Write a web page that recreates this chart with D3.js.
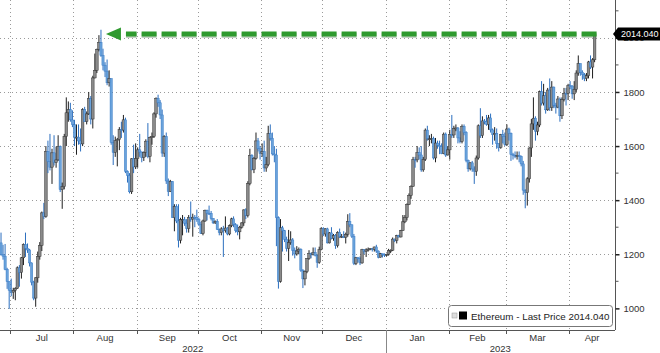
<!DOCTYPE html>
<html>
<head>
<meta charset="utf-8">
<script src="https://cdn.jsdelivr.net/npm/d3@7"></script>
<style>
  body { margin: 0; background: #fff; }
  svg { display: block; font-family: "Liberation Sans", Arial, sans-serif; }
</style>
</head>
<body>
<div id="chart"></div>
<script>
// daily bars, Ethereum (USD), first bar 2022-06-26; open = previous close
const firstDay = '2022-06-26';
const firstOpen = 1242;
const closes = [
  1199,1193,1144,1099,1067,
  1060,1067,1074,1150,1133,1187,1237,1222,1216,1168,1097,1038,1113,1192,1232,1353,1340,1580,1543,1522,1575,1539,1549,1599,1439,1450,1636,1723,1735,1697,1679,
  1632,1633,1619,1608,1735,1691,1719,1776,1700,1852,1880,1958,1983,1935,1899,1877,1834,1849,1614,1577,1620,1624,1661,1659,1697,1507,1491,1431,1553,1523,1554,
  1586,1578,1558,1577,1618,1562,1631,1636,1719,1776,1760,1715,1574,1635,1471,1432,1469,1335,1377,1323,1252,1328,1328,1315,1295,1336,1330,1337,1336,1328,
  1311,1276,1323,1362,1352,1351,1332,1316,1322,1292,1280,1294,1288,1297,1275,1306,1331,1310,1287,1283,1300,1316,1364,1344,1461,1566,1513,1555,1619,1590,1572,
  1579,1519,1531,1646,1629,1571,1567,1335,1100,1298,1287,1255,1222,1243,1253,1215,1201,1212,1218,1141,1109,1136,1184,1203,1198,1206,1196,1170,1217,1296,
  1275,1294,1242,1279,1259,1270,1232,1281,1265,1266,1263,1274,1321,1309,1266,1166,1187,1184,1168,1217,1211,1216,1219,1221,1218,1227,1212,1189,1202,1200,1196,
  1200,1214,1215,1256,1251,1269,1264,1287,1320,1335,1384,1417,1451,1551,1549,1576,1567,1512,1551,1659,1627,1627,1628,1556,1611,1603,1598,1572,1644,1567,1586,
  1643,1641,1665,1667,1630,1617,1672,1650,1547,1516,1538,1515,1507,1556,1675,1639,1693,1691,1680,1704,1660,1642,1647,1609,1595,1642,1636,1605,
  1663,1647,1569,1566,1565,1565,1561,1534,1437,1428,1479,1593,1682,1703,1655,1678,1801,1759,1786,1734,1807,1742,1818,1751,1744,1774,1712,1772,1795,1794,1823,
  1822,1793,1810,1870,1905,1873,1864,1850,1860,1911,1892,1919,2014
];
const highs = [
  1280,1235,1238,1150,1100,
  1110,1076,1078,1155,1160,1190,1240,1280,1240,1220,1170,1102,1115,1210,1245,1358,1390,1600,1620,1645,1590,1640,1598,1640,1602,1465,1645,1780,1765,1760,1732,
  1697,1680,1680,1665,1740,1745,1728,1800,1785,1860,1942,1960,2010,2030,1960,1910,1920,1880,1850,1640,1635,1630,1670,1690,1715,1705,1510,1500,1555,1605,1610,
  1595,1645,1580,1580,1625,1685,1635,1650,1725,1780,1790,1770,1735,1640,1650,1480,1475,1470,1385,1385,1385,1335,1345,1338,1330,1345,1395,1350,1345,1365,
  1335,1320,1328,1365,1365,1380,1360,1333,1325,1330,1295,1300,1305,1340,1300,1310,1335,1340,1315,1310,1305,1318,1366,1370,1470,1590,1570,1560,1650,1630,1600,
  1610,1620,1560,1675,1680,1650,1600,1590,1340,1330,1305,1290,1265,1290,1285,1260,1225,1230,1225,1222,1145,1140,1185,1215,1206,1225,1225,1200,1228,1300,
  1300,1296,1298,1282,1300,1275,1275,1285,1295,1275,1285,1280,1348,1352,1310,1275,1190,1190,1192,1220,1218,1222,1225,1222,1222,1228,1235,1214,1205,1202,1203,
  1202,1220,1218,1262,1258,1272,1272,1290,1345,1345,1388,1425,1455,1560,1560,1600,1595,1600,1560,1665,1675,1640,1645,1635,1630,1620,1620,1610,1650,1650,1600,
  1660,1715,1675,1680,1670,1655,1680,1680,1655,1550,1540,1545,1525,1565,1680,1740,1710,1700,1715,1715,1720,1665,1670,1665,1610,1645,1660,1650,
  1680,1668,1650,1575,1580,1580,1580,1565,1545,1440,1485,1595,1700,1780,1710,1690,1805,1840,1830,1800,1815,1850,1840,1820,1760,1785,1780,1780,1815,1815,1830,
  1840,1825,1840,1880,1935,1905,1880,1870,1870,1915,1935,1925,2020
];
const lows = [
  1195,1180,1141,1072,998,
  1045,1035,1030,1072,1080,1110,1160,1190,1205,1155,1085,1030,1006,1095,1180,1212,1330,1335,1500,1510,1460,1528,1520,1545,1430,1368,1440,1600,1690,1690,1670,
  1600,1568,1605,1580,1600,1690,1680,1715,1680,1665,1850,1870,1950,1930,1880,1855,1825,1820,1605,1530,1560,1525,1585,1630,1650,1500,1465,1425,1423,1500,1515,
  1520,1560,1540,1545,1560,1555,1540,1605,1630,1705,1745,1700,1560,1560,1460,1415,1430,1335,1285,1315,1225,1240,1270,1305,1280,1280,1320,1265,1300,1320,
  1305,1275,1270,1320,1325,1345,1325,1312,1312,1290,1270,1270,1190,1280,1270,1270,1300,1300,1280,1270,1255,1295,1305,1330,1336,1455,1510,1500,1550,1580,1550,
  1560,1505,1505,1525,1620,1565,1540,1230,1073,1095,1210,1245,1210,1175,1235,1195,1185,1195,1200,1135,1075,1085,1130,1180,1185,1196,1192,1150,1165,1215,
  1267,1265,1240,1240,1255,1250,1220,1225,1260,1260,1260,1240,1265,1300,1260,1160,1160,1170,1160,1165,1200,1190,1210,1215,1210,1210,1205,1185,1188,1188,1190,
  1192,1195,1205,1212,1245,1240,1262,1262,1287,1315,1325,1382,1405,1450,1520,1540,1550,1505,1505,1545,1620,1600,1610,1550,1540,1590,1570,1570,1570,1560,1565,
  1550,1630,1630,1655,1610,1610,1610,1640,1540,1505,1510,1505,1460,1490,1550,1630,1630,1680,1675,1660,1650,1605,1620,1590,1580,1590,1610,1600,
  1600,1620,1545,1550,1555,1550,1540,1525,1420,1370,1380,1465,1560,1660,1620,1640,1670,1750,1750,1720,1730,1730,1730,1740,1720,1740,1690,1700,1765,1750,1770,
  1810,1775,1770,1800,1860,1860,1845,1840,1840,1850,1885,1850,1910
];
const monthLabels = ['Jul', 'Aug', 'Sep', 'Oct', 'Nov', 'Dec', 'Jan', 'Feb', 'Mar', 'Apr'];
const yearLabels = ['2022', '2023'];
const yTicks = [1000, 1200, 1400, 1600, 1800, 2000];
const yMinorTicks = [1100, 1300, 1500, 1700, 1900, 2100];
const peakDay = '2022-08-14';
const lastPriceText = '2014.040';
const legendText = 'Ethereum - Last Price 2014.040';

const W = 660, H = 353;
const plotW = 615, plotH = 330;
const parse = d3.timeParse('%Y-%m-%d');

const start = parse(firstDay);
const bars = closes.map((c, i) => ({
  date: d3.timeHour.offset(d3.timeDay.offset(start, i), 12),
  open: i === 0 ? firstOpen : closes[i - 1],
  high: highs[i],
  low: lows[i],
  close: c
}));
const last = bars[bars.length - 1];

const x = d3.scaleTime()
  .domain([start, new Date(2023, 3, 23, 12)])
  .range([0, plotW]);
const y = d3.scaleLinear()
  .domain([920, 2140])
  .range([plotH, 0]);

const svg = d3.select('#chart').append('svg')
  .attr('width', W)
  .attr('height', H);

svg.append('defs').append('clipPath').attr('id', 'plotClip')
  .append('rect').attr('width', plotW).attr('height', plotH);

// grid
const months = d3.timeMonth.range(new Date(2022, 6, 1), new Date(2023, 3, 2));
const grid = svg.append('g').attr('stroke', '#9a9a9a').attr('stroke-dasharray', '1,3');
grid.selectAll('.hg').data(yTicks).join('line')
  .attr('x1', 0).attr('x2', plotW)
  .attr('y1', d => Math.round(y(d)) + 0.5).attr('y2', d => Math.round(y(d)) + 0.5);
grid.selectAll('.vg').data(months).join('line')
  .attr('x1', d => Math.round(x(d)) + 0.5).attr('x2', d => Math.round(x(d)) + 0.5)
  .attr('y1', 0).attr('y2', plotH);

// candles
const up = d => d.close >= d.open;
const candles = svg.append('g').attr('clip-path', 'url(#plotClip)')
  .selectAll('g').data(bars).join('g');
candles.append('line')
  .attr('x1', d => x(d.date)).attr('x2', d => x(d.date))
  .attr('y1', d => y(d.high)).attr('y2', d => y(d.low))
  .attr('stroke', d => up(d) ? '#1e1e1e' : '#2c6fbf')
  .attr('stroke-width', 1);
candles.append('rect')
  .attr('x', d => x(d.date) - (up(d) ? 1.3 : 1.1))
  .attr('width', d => up(d) ? 2.6 : 2.2)
  .attr('y', d => y(Math.max(d.open, d.close)))
  .attr('height', d => Math.max(1, Math.abs(y(d.open) - y(d.close))))
  .attr('fill', d => up(d) ? '#8a8a8a' : '#6aa3dc')
  .attr('stroke', d => up(d) ? '#333' : '#3a7cc6')
  .attr('stroke-width', 0.5);

// green arrow from last price back to the August peak
const arrowY = y(last.close);
const tipX = x(parse(peakDay)) + 6;
const endX = x(last.date) + 2;
const arrow = svg.append('g');
arrow.append('line')
  .attr('x1', endX).attr('x2', tipX + 20)
  .attr('y1', arrowY + 1.5).attr('y2', arrowY + 1.5)
  .attr('stroke', '#5a7a5a').attr('stroke-opacity', 0.35)
  .attr('stroke-width', 5).attr('stroke-dasharray', '15,5');
arrow.append('line')
  .attr('x1', endX).attr('x2', tipX + 20)
  .attr('y1', arrowY).attr('y2', arrowY)
  .attr('stroke', '#2f9a2f')
  .attr('stroke-width', 5).attr('stroke-dasharray', '15,5');
arrow.append('path')
  .attr('d', `M${tipX},${arrowY} L${tipX + 15},${arrowY - 6.5} L${tipX + 15},${arrowY + 6.5} Z`)
  .attr('fill', '#2f9a2f');

// bottom axis
const axisCol = '#555';
svg.append('line')
  .attr('x1', 0).attr('x2', plotW)
  .attr('y1', plotH + 0.5).attr('y2', plotH + 0.5)
  .attr('stroke', axisCol);
svg.append('g').selectAll('line').data(months).join('line')
  .attr('x1', d => Math.round(x(d)) + 0.5).attr('x2', d => Math.round(x(d)) + 0.5)
  .attr('y1', plotH).attr('y2', plotH + 4)
  .attr('stroke', axisCol);
const domainEnd = x.domain()[1];
svg.append('g').selectAll('text').data(months).join('text')
  .attr('x', d => {
    const a = d3.max([d, start]);
    const b = d3.min([d3.timeMonth.offset(d, 1), domainEnd]);
    return (x(a) + x(b)) / 2;
  })
  .attr('y', 341)
  .attr('text-anchor', 'middle')
  .attr('font-size', 9.5)
  .attr('fill', '#333')
  .text((d, i) => monthLabels[i]);

const yearStart = new Date(2023, 0, 1);
svg.append('line')
  .attr('x1', Math.round(x(yearStart)) + 0.5).attr('x2', Math.round(x(yearStart)) + 0.5)
  .attr('y1', plotH).attr('y2', H)
  .attr('stroke', '#888');
const yearSpans = [[0, x(yearStart)], [x(yearStart), plotW]];
svg.append('g').selectAll('text').data(yearLabels).join('text')
  .attr('x', (d, i) => (yearSpans[i][0] + yearSpans[i][1]) / 2)
  .attr('y', 352)
  .attr('text-anchor', 'middle')
  .attr('font-size', 9.5)
  .attr('fill', '#333')
  .text(d => d);

// right axis
const yAxis = svg.append('g')
  .attr('transform', `translate(${plotW + 0.5},0)`)
  .call(d3.axisRight(y).tickValues(yTicks).tickSize(4).tickPadding(4).tickFormat(d3.format('d')));
yAxis.select('.domain').attr('stroke', axisCol).attr('d', `M0,0V${plotH}`);
yAxis.selectAll('.tick line').attr('stroke', '#222').attr('stroke-width', 1.5);
yAxis.selectAll('.tick text')
  .attr('font-family', '"Liberation Sans", Arial, sans-serif')
  .attr('font-size', 9.5)
  .attr('fill', '#333');
svg.append('g').attr('transform', `translate(${plotW + 0.5},0)`)
  .selectAll('line').data(yMinorTicks).join('line')
  .attr('x1', 0).attr('x2', 3)
  .attr('y1', d => y(d)).attr('y2', d => y(d))
  .attr('stroke', axisCol);

// last price tag (covers the 2000 label, as in the original)
const tag = svg.append('g').attr('transform', `translate(0,${arrowY})`);
tag.append('path')
  .attr('d', `M${plotW - 2},0 L${plotW + 3},-6.5 L${W},-6.5 L${W},6.5 L${plotW + 3},6.5 Z`)
  .attr('fill', '#000');
tag.append('text')
  .attr('x', plotW + 6).attr('y', 3.3)
  .attr('font-size', 9)
  .attr('fill', '#fff')
  .text(lastPriceText);

// legend
const legend = svg.append('g').attr('transform', 'translate(448,305)');
legend.append('rect')
  .attr('x', 0.5).attr('y', 0.5)
  .attr('width', 164).attr('height', 21)
  .attr('rx', 3)
  .attr('fill', '#fff')
  .attr('stroke', '#777');
legend.append('rect')
  .attr('x', 4).attr('y', 8).attr('width', 5).attr('height', 5)
  .attr('fill', '#ddd').attr('stroke', '#999').attr('stroke-width', 0.5);
legend.append('rect')
  .attr('x', 11).attr('y', 6.5).attr('width', 8).attr('height', 8)
  .attr('fill', '#000');
legend.append('text')
  .attr('x', 23).attr('y', 14.5)
  .attr('font-size', 9.8)
  .attr('fill', '#222')
  .text(legendText);
</script>
</body>
</html>
